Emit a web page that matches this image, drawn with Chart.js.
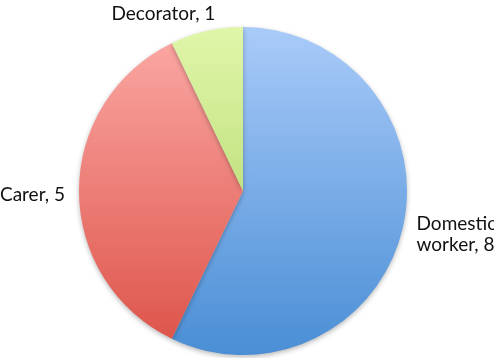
<!DOCTYPE html>
<html>
<head>
<meta charset="utf-8">
<script src="https://cdn.jsdelivr.net/npm/chart.js@4/dist/chart.umd.min.js"></script>
<style>
  html, body { margin: 0; padding: 0; background: #ffffff; overflow: hidden; }
  canvas { display: block; }
</style>
</head>
<body>
<canvas id="pie" width="494" height="358"></canvas>
<script>
// Occupations and head counts
const categories = [['Domestic', 'worker'], 'Carer', 'Decorator'];
const counts = [8, 5, 1];

// Vertical gradient stops (top, bottom) for each slice
const topColors = ['#a9cbf9', '#fcaaa6', '#e0f6aa'];
const bottomColors = ['#4a8ed5', '#dc5147', '#a6cf5a'];

function sliceGradient(ctx) {
  const chart = ctx.chart;
  const area = chart.chartArea;
  if (!area) return topColors[ctx.dataIndex];
  const g = chart.ctx.createLinearGradient(0, area.top, 0, area.bottom);
  g.addColorStop(0, topColors[ctx.dataIndex]);
  g.addColorStop(1, bottomColors[ctx.dataIndex]);
  return g;
}

// Soft drop shadow under the pie
const pieShadow = {
  id: 'pieShadow',
  beforeDatasetDraw(chart) {
    const c = chart.ctx;
    c.save();
    c.shadowColor = 'rgba(0,0,0,0.28)';
    c.shadowBlur = 5;
    c.shadowOffsetY = 2;
  },
  afterDatasetDraw(chart) {
    chart.ctx.restore();
  }
};

// "Category, value" labels placed just outside each slice
const outerLabels = {
  id: 'outerLabels',
  afterDraw(chart) {
    const c = chart.ctx;
    const meta = chart.getDatasetMeta(0);
    c.save();
    c.font = '19px Lato, "Open Sans", sans-serif';
    c.fillStyle = '#111111';
    meta.data.forEach((arc, i) => {
      const p = arc.getProps(['x', 'y', 'startAngle', 'endAngle', 'outerRadius'], true);
      const mid = (p.startAngle + p.endAngle) / 2;
      const ux = Math.cos(mid), uy = Math.sin(mid);
      const r = p.outerRadius + 14;
      let ax = p.x + ux * r;
      let ay = p.y + uy * r + 4;
      const name = categories[i];
      const lines = Array.isArray(name) ? name.slice() : [name];
      lines[lines.length - 1] += ', ' + counts[i];
      if (uy < -0.9) { ax += 12; ay -= 8; }
      c.textAlign = ux < 0 ? 'right' : 'left';
      c.textBaseline = 'middle';
      const lh = 21;
      const y0 = ay - (lines.length - 1) * lh / 2;
      lines.forEach((t, k) => c.fillText(t, ax, y0 + k * lh));
    });
    c.restore();
  }
};

new Chart(document.getElementById('pie'), {
  type: 'pie',
  data: {
    labels: categories.map(l => Array.isArray(l) ? l.join(' ') : l),
    datasets: [{
      data: counts,
      backgroundColor: sliceGradient,
      borderWidth: 0
    }]
  },
  options: {
    responsive: false,
    animation: false,
    layout: { padding: { top: 27, bottom: 3, left: 79, right: 87 } },
    plugins: {
      legend: { display: false },
      tooltip: { enabled: false }
    }
  },
  plugins: [pieShadow, outerLabels]
});
</script>
</body>
</html>
